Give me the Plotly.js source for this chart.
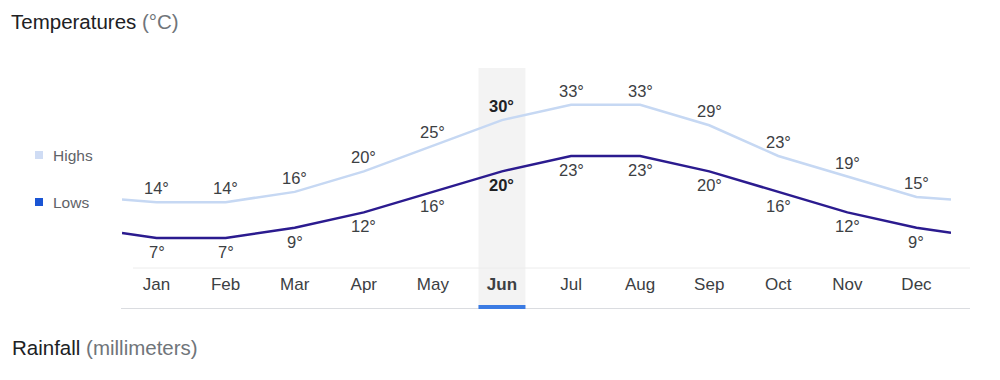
<!DOCTYPE html>
<html>
<head>
<meta charset="utf-8">
<script src="https://cdn.plot.ly/plotly-3.0.1.min.js"></script>
<style>
  html, body { margin: 0; padding: 0; background: #fff; }
  #chart { width: 1000px; height: 380px; }
</style>
</head>
<body>
<div id="chart"></div>
<script>
// Monthly temperature normals (°C)
const months = ['Jan', 'Feb', 'Mar', 'Apr', 'May', 'Jun', 'Jul', 'Aug', 'Sep', 'Oct', 'Nov', 'Dec'];
const highs = [14, 14, 16, 20, 25, 30, 33, 33, 29, 23, 19, 15];
const lows = [7, 7, 9, 12, 16, 20, 23, 23, 20, 16, 12, 9];
const selectedMonth = 5;

// Plot frame in pixels
const W = 1000, H = 380;
const L = 122, R = 951, T = 68, B = 268;
const px2x = px => (px - L) / (R - L);
const py2y = py => (B - py) / (B - T);

const FONT = 'Arial, "Liberation Sans", sans-serif';
const HIGH_COLOR = '#c6d8f3';
const LOW_COLOR = '#2b1b8f';

// The curves run to the column edges; the edge value is the average of
// December and January so the year wraps around smoothly.
function wrapped(vals) {
  const edge = (vals[0] + vals[vals.length - 1]) / 2;
  return {
    x: [-0.5].concat(vals.map((_, i) => i), [vals.length - 0.5]),
    y: [edge].concat(vals, [edge])
  };
}
const hiLine = wrapped(highs);
const loLine = wrapped(lows);

const traces = [
  { x: hiLine.x, y: hiLine.y, type: 'scatter', mode: 'lines',
    line: { color: HIGH_COLOR, width: 2.5 }, hoverinfo: 'skip', showlegend: false },
  { x: loLine.x, y: loLine.y, type: 'scatter', mode: 'lines',
    line: { color: LOW_COLOR, width: 2.5 }, hoverinfo: 'skip', showlegend: false }
];

// Value labels: highs above the curve, lows below
const annotations = [];
months.forEach((m, i) => {
  const sel = i === selectedMonth;
  const col = sel ? '#202124' : '#3c4043';
  annotations.push({
    x: i, y: highs[i], xref: 'x', yref: 'y', showarrow: false,
    text: sel ? '<b>' + highs[i] + '°</b>' : highs[i] + '°',
    yshift: 14, yanchor: 'middle',
    font: { family: FONT, size: 16.5, color: col }
  });
  annotations.push({
    x: i, y: lows[i], xref: 'x', yref: 'y', showarrow: false,
    text: sel ? '<b>' + lows[i] + '°</b>' : lows[i] + '°',
    yshift: -14, yanchor: 'middle',
    font: { family: FONT, size: 16.5, color: col }
  });
});

// Legend entries
annotations.push(
  { x: px2x(51), y: py2y(155), xref: 'paper', yref: 'paper', xanchor: 'left', yanchor: 'middle',
    showarrow: false, text: 'Highs', font: { family: FONT, size: 15.5, color: '#5f6368' } },
  { x: px2x(51), y: py2y(202), xref: 'paper', yref: 'paper', xanchor: 'left', yanchor: 'middle',
    showarrow: false, text: 'Lows', font: { family: FONT, size: 15.5, color: '#5f6368' } },
  // Next section heading
  { x: px2x(10), y: py2y(347), xref: 'paper', yref: 'paper', xanchor: 'left', yanchor: 'middle',
    showarrow: false, text: 'Rainfall <span style="color:#70757a">(millimeters)</span>',
    font: { family: FONT, size: 20.5, color: '#202124' } }
);

const half = 0.34;
const shapes = [
  // selected month column
  { type: 'rect', xref: 'x', yref: 'paper', layer: 'below',
    x0: selectedMonth - half, x1: selectedMonth + half, y0: py2y(308), y1: py2y(68),
    fillcolor: '#f3f3f3', line: { width: 0 } },
  // divider above month labels
  { type: 'line', xref: 'paper', yref: 'paper', layer: 'below',
    x0: px2x(133), x1: px2x(970), y0: py2y(268), y1: py2y(268),
    line: { color: '#ececec', width: 1 } },
  // bottom rule
  { type: 'line', xref: 'paper', yref: 'paper', layer: 'below',
    x0: px2x(121), x1: px2x(970), y0: py2y(308.5), y1: py2y(308.5),
    line: { color: '#dadce0', width: 1 } },
  // selected month underline
  { type: 'rect', xref: 'x', yref: 'paper', layer: 'above',
    x0: selectedMonth - half, x1: selectedMonth + half, y0: py2y(309), y1: py2y(305),
    fillcolor: '#3b7be3', line: { width: 0 } },
  // legend swatches
  { type: 'rect', xref: 'paper', yref: 'paper',
    x0: px2x(35), x1: px2x(43), y0: py2y(159), y1: py2y(151),
    fillcolor: '#cfdcf4', line: { width: 0 } },
  { type: 'rect', xref: 'paper', yref: 'paper',
    x0: px2x(35), x1: px2x(43), y0: py2y(206), y1: py2y(198),
    fillcolor: '#1a55d4', line: { width: 0 } }
];

const tickText = months.map((m, i) => i === selectedMonth ? '<b>' + m + '</b>' : m);

const layout = {
  width: W, height: H,
  margin: { l: L, r: W - R, t: T, b: H - B, pad: 0 },
  paper_bgcolor: '#ffffff',
  plot_bgcolor: 'rgba(0,0,0,0)',
  showlegend: false,
  title: {
    text: 'Temperatures <span style="color:#70757a">(°C)</span>',
    x: 11 / W, xref: 'container', xanchor: 'left',
    y: 1 - 22 / H, yref: 'container', yanchor: 'middle',
    font: { family: FONT, size: 20.5, color: '#202124' }
  },
  xaxis: {
    range: [-0.5, months.length - 0.5],
    tickvals: months.map((_, i) => i),
    ticktext: tickText,
    tickfont: { family: FONT, size: 17, color: '#3c4043' },
    ticks: '', showgrid: false, zeroline: false, showline: false,
    ticklabelstandoff: 4, fixedrange: true
  },
  yaxis: {
    range: [7 - (B - 238) / 5.125, 7 + (238 - T) / 5.125],
    visible: false, fixedrange: true
  },
  shapes: shapes,
  annotations: annotations
};

Plotly.newPlot('chart', traces, layout, { staticPlot: true, displayModeBar: false });
</script>
</body>
</html>
